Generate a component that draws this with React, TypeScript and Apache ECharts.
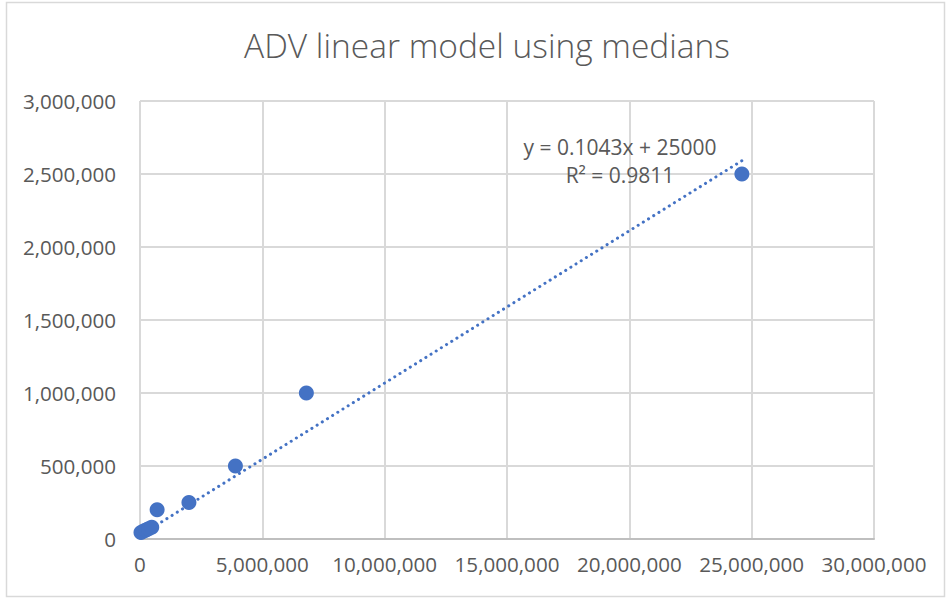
import React, { useEffect, useRef } from "react";
import * as echarts from "echarts";

const titleText = "ADV linear model using medians";
const xValues = [40000, 150000, 250000, 350000, 480000, 700000, 2000000, 3900000, 6800000, 24600000];
const yValues = [45000, 55000, 62000, 70000, 80000, 200000, 250000, 500000, 1000000, 2500000];
const trendSlope = 0.1043;
const trendIntercept = 25000;
const equationLine1 = "y = 0.1043x + 25000";
const equationLine2 = "R² = 0.9811";

const fmt = (v: number) => v.toLocaleString("en-US");

export default function App() {
  const ref = useRef<HTMLDivElement>(null);
  useEffect(() => {
    if (!ref.current) return;
    const chart = echarts.init(ref.current, undefined, { renderer: "svg" });
    const points = xValues.map((x, i) => [x, yValues[i]]);
    const xMin = Math.min(...xValues);
    const xMax = Math.max(...xValues);
    const trend = [
      [xMin, trendSlope * xMin + trendIntercept],
      [xMax, trendSlope * xMax + trendIntercept],
    ];
    const font = "'Open Sans', sans-serif";
    chart.setOption({
      animation: false,
      backgroundColor: "#ffffff",
      title: {
        text: titleText,
        left: 482,
        top: 23,
        textAlign: "center",
        textStyle: { fontFamily: font, fontSize: 33.5, fontWeight: 300, color: "#595959" },
      },
      grid: { left: 140, right: 72, top: 101, bottom: 59 },
      xAxis: {
        type: "value",
        min: 0,
        max: 30000000,
        interval: 5000000,
        axisLine: { show: true, lineStyle: { color: "#bfbfbf", width: 2 } },
        axisTick: { show: false },
        splitLine: { show: true, lineStyle: { color: "#d9d9d9", width: 2 } },
        axisLabel: { formatter: fmt, color: "#595959", fontFamily: font, fontSize: 20.6, margin: 14 },
      },
      yAxis: {
        type: "value",
        min: 0,
        max: 3000000,
        interval: 500000,
        axisLine: { show: false },
        axisTick: { show: false },
        splitLine: { show: true, lineStyle: { color: "#d9d9d9", width: 2 } },
        axisLabel: { formatter: fmt, color: "#595959", fontFamily: font, fontSize: 20.6, margin: 24 },
      },
      graphic: [
        {
          type: "rect",
          shape: { x: 6.5, y: 2.5, width: 938, height: 594 },
          style: { fill: "none", stroke: "#d9d9d9", lineWidth: 1.5 },
          silent: true,
          z: -1,
        },
        {
          type: "text",
          x: 620,
          y: 161,
          z: 100,
          style: {
            text: equationLine1 + "\n" + equationLine2,
            fontFamily: font,
            fontSize: 21,
            lineHeight: 28,
            fill: "#595959",
            align: "center",
            verticalAlign: "middle",
          },
        },
      ],
      series: [
        {
          type: "line",
          data: trend,
          showSymbol: false,
          symbol: "none",
          lineStyle: { color: "#4472c4", width: 3, type: [0.1, 6], cap: "round" },
          z: 2,
        },
        {
          type: "scatter",
          data: points,
          symbol: "circle",
          symbolSize: 15,
          itemStyle: { color: "#4472c4", opacity: 1 },
          z: 3,
        },
      ],
    });
    return () => chart.dispose();
  }, []);
  return (
    <div
      ref={ref}
      style={{ position: "absolute", left: 0, top: 0, width: 946, height: 598 }}
    />
  );
}
